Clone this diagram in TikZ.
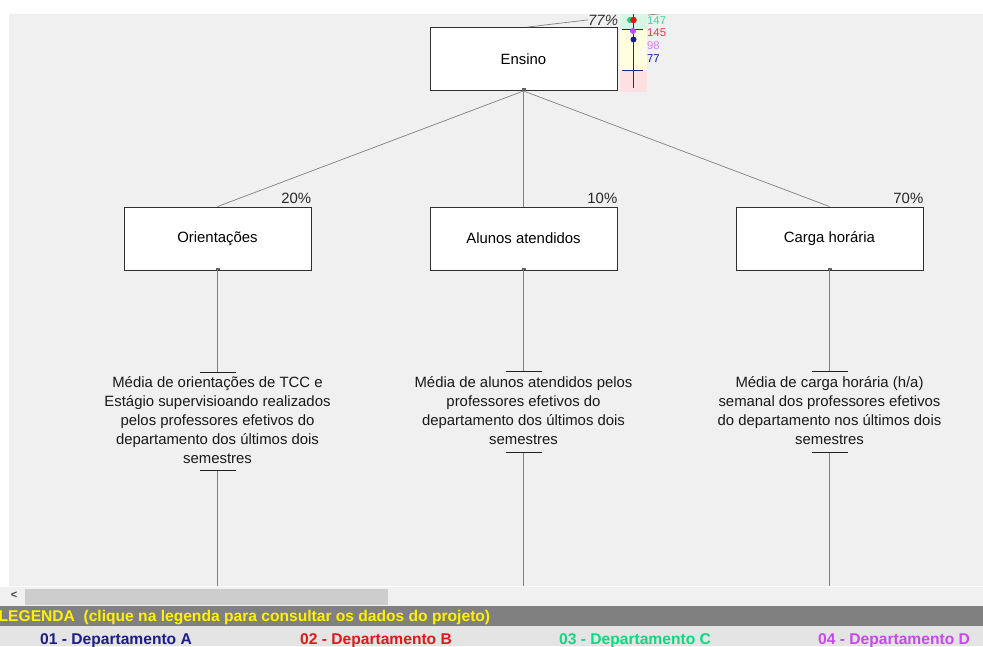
\documentclass[tikz,border=0pt]{standalone}
\usepackage{fontspec}
\setmainfont{Liberation Sans}
\definecolor{canvas}{HTML}{F0F0F0}
\definecolor{wire}{HTML}{808080}
\definecolor{boxline}{HTML}{303030}
\definecolor{tickc}{HTML}{202020}
\definecolor{thumb}{HTML}{CDCDCD}
\definecolor{bandc}{HTML}{808080}
\definecolor{rowc}{HTML}{E4E4E4}
\definecolor{depA}{HTML}{1C1C8C}
\definecolor{depB}{HTML}{E01818}
\definecolor{depC}{HTML}{10D880}
\definecolor{depD}{HTML}{C848F0}
\definecolor{zoneG}{HTML}{D6F7E4}
\definecolor{zoneY}{HTML}{FFFFE0}
\definecolor{zoneR}{HTML}{FFE0E2}
\definecolor{scaleC}{HTML}{1C2A8C}
\newcommand{\bodyfont}{\fontsize{14.9}{19}\selectfont}
\newcommand{\legfont}{\fontsize{15.6}{19}\selectfont\bfseries}
\newcommand{\smallnum}{\fontsize{11.3}{12}\selectfont}
\begin{document}
\begin{tikzpicture}[x=1pt,y=-1pt,
  every node/.style={inner sep=0pt},
  critbox/.style={draw=boxline, fill=white, line width=0.9pt,
    minimum width=187pt, minimum height=63pt, font=\bodyfont},
  weight/.style={font=\bodyfont, text=black!85, anchor=south east},
  desc/.style={font=\bodyfont, align=center, text=black!90},
  link/.style={draw=wire, line width=0.7pt},
  tick/.style={draw=tickc, line width=0.9pt},
  legend/.style={font=\legfont, anchor=base west},
  nums/.style={font=\smallnum, anchor=west}]

% frame and background
\useasboundingbox (0,0) rectangle (983,646);
\fill[white] (0,0) rectangle (983,646);
\fill[canvas] (9,14) rectangle (983,586);

% criterion boxes
\node[critbox] (ensino) at (523.5,59) {Ensino};
\node[critbox] (orient) at (217.5,238.5) {Orientações};
\node[critbox] (alunos) at (523.5,238.5) {Alunos atendidos};
\node[critbox] (carga)  at (829.5,238.5) {Carga horária};

% weights
\node[weight] (w1) at (orient.north east) [yshift=2.5pt] {20\%};
\node[weight] (w2) at (alunos.north east) [yshift=2.5pt] {10\%};
\node[weight] (w3) at (carga.north east)  [yshift=2.5pt] {70\%};

% links from the root to its criteria
\draw[link] (ensino.south) -- (orient.north);
\draw[link] (ensino.south) -- (alunos.north);
\draw[link] (ensino.south) -- (carga.north);
\fill[tickc!70] ([xshift=-2pt]ensino.south) rectangle ([xshift=2pt,yshift=2.5pt]ensino.south);

% indicator descriptions
\node[desc] (d1) at (217.5,420) {Média de orientações de TCC e\\Estágio supervisioando realizados\\pelos professores efetivos do\\departamento dos últimos dois\\semestres};
\node[desc] (d2) at (523.5,410.5) {Média de alunos atendidos pelos\\professores efetivos do\\departamento dos últimos dois\\semestres};
\node[desc] (d3) at (829.5,410.5) {Média de carga horária (h/a)\\semanal dos professores efetivos\\do departamento nos últimos dois\\semestres};

% tick marks around each description
\coordinate (t1a) at (217.5,372); \coordinate (t1b) at (217.5,470); \coordinate (t1c) at (217.5,586);
\coordinate (t2a) at (523.5,371); \coordinate (t2b) at (523.5,452); \coordinate (t2c) at (523.5,586);
\coordinate (t3a) at (829.5,371); \coordinate (t3b) at (829.5,452); \coordinate (t3c) at (829.5,586);

\foreach \c/\a/\b/\e in {orient/t1a/t1b/t1c, alunos/t2a/t2b/t2c, carga/t3a/t3b/t3c}{
  \draw[link] (\c.south) -- (\a);
  \draw[link] (\b) -- (\e);
  \draw[tick] ([xshift=-18pt]\a) -- ([xshift=18pt]\a);
  \draw[tick] ([xshift=-18pt]\b) -- ([xshift=18pt]\b);
  \fill[tickc!70] ([xshift=-2pt]\c.south) rectangle ([xshift=2pt,yshift=2.5pt]\c.south);
}

% root weight above the box
\node[font=\bodyfont\itshape, anchor=base west, text=black!80] (w0) at (588,25) {77\%};
\draw[link] ([xshift=4pt]ensino.north) -- (w0.west);
\draw[link] (648,15) -- (668,13);

% small scale beside the root
\fill[zoneG] (620,14) rectangle (647,29);
\fill[zoneY] (620,29) rectangle (647,70);
\fill[zoneR] (620,70) rectangle (647,92);
\coordinate (sTop) at (633,14);
\coordinate (sBot) at (633,88);
\draw[scaleC, line width=0.9pt] (sTop) -- (sBot);
\draw[scaleC, line width=0.9pt] (622,29.5) -- (643,29.5);
\draw[scaleC, line width=0.9pt] (622,70.5) -- (643,70.5);
\fill[depC] (630,20) circle (3pt);
\fill[depB] (633.5,20) circle (3.3pt);
\fill[depD] (633,31) circle (3pt);
\fill[depA] (633.5,39.5) circle (3pt);
\node[nums, text=depC!85] (n1) at (647,20.5) {147};
\node[nums, text=depB!85] (n2) at (647,33) {145};
\node[nums, text=depD!70] (n3) at (647,46) {98};
\node[nums, text=depA!70!blue] (n4) at (647,59) {77};

% mask the area above the canvas
\fill[white] (0,0) rectangle (983,14);

% scroll bar
\fill[canvas] (0,587) rectangle (983,606);
\draw[white, line width=0.8pt] (0,586.5) -- (983,586.5);
\fill[thumb] (25,588.5) rectangle (388,605);
\node[font=\fontsize{11}{12}\selectfont\bfseries, text=black!75] (arrow) at (14,595) {<};

% legend
\fill[bandc] (0,606) rectangle (983,626);
\fill[rowc] (0,626) rectangle (983,646);
\node[legend, text=yellow] (lh) at (-1.5,621.5) {LEGENDA\ \ (clique na legenda para consultar os dados do projeto)};
\node[legend, text=depA] (la) at (40,644.5) {01 - Departamento A};
\node[legend, text=depB] (lb) at (300,644.5) {02 - Departamento B};
\node[legend, text=depC] (lc) at (559,644.5) {03 - Departamento C};
\node[legend, text=depD] (ld) at (818,644.5) {04 - Departamento D};
\end{tikzpicture}
\end{document}
